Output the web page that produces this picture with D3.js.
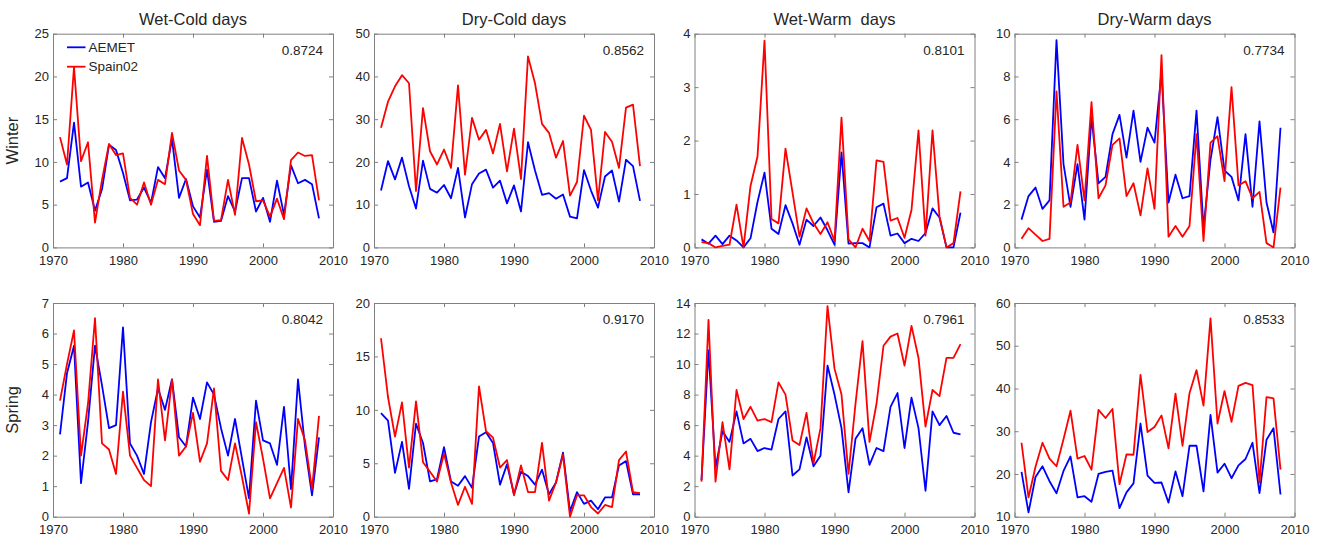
<!DOCTYPE html>
<html>
<head>
<meta charset="utf-8">
<title>Wet/Dry - Cold/Warm days, AEMET vs Spain02</title>
<script src="https://cdn.jsdelivr.net/npm/d3@7"></script>
<style>
  body { margin: 0; background: #fff; }
  svg { font-family: "Liberation Sans", Arial, sans-serif; }
</style>
</head>
<body>
<script>

// x categories
var years = [1971, 1972, 1973, 1974, 1975, 1976, 1977, 1978, 1979, 1980,
             1981, 1982, 1983, 1984, 1985, 1986, 1987, 1988, 1989, 1990,
             1991, 1992, 1993, 1994, 1995, 1996, 1997, 1998, 1999, 2000,
             2001, 2002, 2003, 2004, 2005, 2006, 2007, 2008];
var xTicks = [1970, 1980, 1990, 2000, 2010];

// ---- Winter ----
var wetColdWinterAemet   = [7.7, 8.1, 14.6, 7.1, 7.6, 4.3, 6.8, 12.0, 11.4, 8.7, 5.5, 5.6, 7.0, 5.2, 9.4, 8.1, 12.7, 5.8, 8.0, 4.8, 3.5, 9.1, 3.0, 3.1, 6.0, 4.2, 8.1, 8.1, 4.2, 5.8, 3.0, 7.8, 3.8, 9.6, 7.5, 7.9, 7.4, 3.4];
var wetColdWinterSpain02 = [12.9, 9.7, 21.1, 10.1, 12.3, 2.9, 7.9, 12.1, 10.8, 11.0, 5.8, 5.0, 7.6, 5.0, 7.9, 7.4, 13.4, 9.0, 7.9, 3.9, 2.6, 10.7, 3.1, 3.2, 7.9, 3.8, 12.8, 9.7, 5.4, 5.5, 3.6, 5.7, 3.3, 10.2, 11.1, 10.7, 10.8, 5.5];

var dryColdWinterAemet   = [13.3, 20.2, 15.9, 21.0, 14.3, 9.1, 20.3, 13.7, 12.8, 14.6, 11.5, 18.6, 7.0, 14.8, 17.3, 18.2, 14.0, 15.6, 10.3, 14.5, 8.4, 24.6, 18.0, 12.3, 12.7, 11.4, 12.4, 7.2, 6.8, 18.1, 13.3, 9.3, 16.6, 18.0, 10.7, 20.5, 19.0, 10.9];
var dryColdWinterSpain02 = [28.0, 34.1, 37.7, 40.3, 38.4, 13.2, 32.6, 22.5, 19.4, 22.9, 18.6, 37.9, 17.0, 30.3, 25.2, 27.5, 22.0, 28.9, 17.8, 27.8, 16.0, 44.7, 38.4, 28.9, 26.8, 21.0, 24.9, 12.1, 15.3, 30.8, 27.5, 11.0, 27.0, 24.7, 18.6, 32.7, 33.4, 19.0];

var wetWarmWinterAemet   = [0.15, 0.07, 0.22, 0.06, 0.22, 0.13, 0.0, 0.17, 0.85, 1.40, 0.35, 0.25, 0.79, 0.45, 0.05, 0.52, 0.40, 0.56, 0.32, 0.05, 1.78, 0.07, 0.08, 0.08, 0.0, 0.75, 0.82, 0.22, 0.26, 0.08, 0.16, 0.12, 0.27, 0.73, 0.56, 0.0, 0.0, 0.65];
var wetWarmWinterSpain02 = [0.10, 0.08, 0.0, 0.03, 0.05, 0.80, 0.0, 1.15, 1.70, 3.87, 0.53, 0.45, 1.85, 1.03, 0.20, 0.73, 0.45, 0.25, 0.47, 0.12, 2.43, 0.15, 0.0, 0.35, 0.12, 1.63, 1.60, 0.50, 0.55, 0.18, 0.70, 2.19, 0.22, 2.19, 0.58, 0.0, 0.08, 1.05];

var dryWarmWinterAemet   = [1.3, 2.4, 2.8, 1.8, 2.2, 9.7, 3.9, 1.9, 3.9, 1.3, 6.1, 3.0, 3.3, 5.3, 6.2, 4.2, 6.4, 4.0, 5.6, 4.9, 8.2, 2.1, 3.4, 2.3, 2.4, 6.4, 0.9, 4.1, 6.1, 3.6, 3.3, 2.2, 5.3, 1.9, 5.9, 2.1, 0.7, 5.6];
var dryWarmWinterSpain02 = [0.4, 0.9, 0.6, 0.3, 0.4, 7.3, 1.9, 2.1, 4.8, 2.2, 6.8, 2.3, 2.9, 4.8, 5.1, 2.4, 3.0, 1.5, 3.7, 1.8, 9.0, 0.5, 1.0, 0.5, 1.0, 5.3, 0.3, 4.9, 5.2, 3.1, 7.5, 2.9, 3.1, 2.3, 2.6, 0.2, 0.0, 2.8];

// ---- Spring ----
var wetColdSpringAemet   = [2.7, 4.7, 5.6, 1.1, 3.1, 5.6, 4.3, 2.9, 3.0, 6.2, 2.4, 2.0, 1.4, 3.1, 4.2, 3.5, 4.5, 2.6, 2.3, 3.9, 3.2, 4.4, 4.0, 2.9, 2.0, 3.2, 1.9, 0.6, 3.8, 2.5, 2.4, 1.7, 3.6, 0.9, 4.5, 2.3, 0.7, 2.6];
var wetColdSpringSpain02 = [3.8, 5.0, 6.1, 2.0, 3.7, 6.5, 2.4, 2.2, 1.4, 4.1, 2.0, 1.6, 1.2, 1.0, 4.5, 2.5, 4.5, 2.0, 2.3, 3.4, 1.8, 2.4, 4.2, 1.5, 1.2, 2.4, 1.3, 0.1, 3.1, 1.9, 0.6, 1.1, 1.6, 0.3, 3.2, 2.5, 0.9, 3.3];

var dryColdSpringAemet   = [9.7, 9.0, 4.1, 7.0, 2.6, 8.7, 6.9, 3.3, 3.5, 6.5, 3.3, 2.9, 3.8, 2.7, 7.5, 7.9, 6.9, 3.0, 4.9, 2.1, 4.2, 3.8, 3.0, 4.4, 2.1, 3.2, 6.0, 0.5, 2.3, 1.2, 1.5, 0.7, 1.8, 1.8, 4.8, 5.2, 2.1, 2.1];
var dryColdSpringSpain02 = [16.7, 11.2, 7.5, 10.7, 4.6, 10.8, 5.1, 4.2, 3.3, 5.9, 3.2, 1.1, 2.8, 1.2, 12.2, 8.0, 7.4, 4.6, 5.3, 2.0, 4.8, 2.3, 2.3, 6.9, 1.5, 3.2, 5.8, 0.0, 2.0, 2.0, 0.9, 0.3, 1.1, 0.9, 5.3, 6.1, 2.3, 2.2];

var wetWarmSpringAemet   = [2.4, 10.9, 3.2, 5.6, 4.9, 6.9, 4.8, 5.1, 4.3, 4.5, 4.4, 6.4, 6.9, 2.7, 3.1, 5.2, 3.3, 4.0, 9.9, 8.0, 5.8, 1.6, 5.1, 5.8, 3.4, 4.5, 4.3, 7.2, 8.1, 4.5, 7.8, 5.8, 1.7, 6.9, 6.0, 6.6, 5.5, 5.4];
var wetWarmSpringSpain02 = [2.3, 12.9, 2.3, 6.2, 3.1, 8.3, 6.4, 7.2, 6.3, 6.4, 6.2, 8.8, 8.0, 5.0, 4.7, 6.8, 3.5, 5.8, 13.8, 9.7, 8.0, 2.8, 7.4, 11.5, 4.9, 7.4, 11.2, 11.8, 12.0, 9.9, 12.5, 10.4, 5.9, 8.3, 7.9, 10.4, 10.4, 11.3];

var dryWarmSpringAemet   = [20.5, 11.0, 19.3, 21.8, 18.3, 15.5, 20.7, 24.1, 14.5, 14.8, 13.5, 20.0, 20.5, 20.8, 12.0, 15.7, 17.8, 31.8, 19.6, 17.9, 18.0, 13.3, 20.6, 14.8, 26.6, 26.6, 15.9, 33.8, 20.3, 22.4, 19.0, 22.0, 23.5, 27.3, 15.5, 28.0, 30.7, 15.2];
var dryWarmSpringSpain02 = [27.3, 14.5, 21.7, 27.3, 23.6, 21.8, 28.1, 34.8, 23.6, 24.2, 21.0, 35.0, 33.1, 35.2, 17.6, 24.6, 24.5, 43.2, 29.8, 31.0, 33.7, 26.0, 38.8, 26.6, 38.9, 44.3, 36.0, 56.4, 31.8, 39.4, 32.2, 40.6, 41.3, 40.8, 18.0, 38.0, 37.7, 21.0];

// labels
var titles = ["Wet-Cold days", "Dry-Cold days", "Wet-Warm  days", "Dry-Warm days"];
var seasons = ["Winter", "Spring"];
var seriesNames = ["AEMET", "Spain02"];
var correlationsWinter = ["0.8724", "0.8562", "0.8101", "0.7734"];
var correlationsSpring = ["0.8042", "0.9170", "0.7961", "0.8533"];

// y tick labels per panel
var yTicksWetColdWinter = [0, 5, 10, 15, 20, 25];
var yTicksDryColdWinter = [0, 10, 20, 30, 40, 50];
var yTicksWetWarmWinter = [0, 1, 2, 3, 4];
var yTicksDryWarmWinter = [0, 2, 4, 6, 8, 10];
var yTicksWetColdSpring = [0, 1, 2, 3, 4, 5, 6, 7];
var yTicksDryColdSpring = [0, 5, 10, 15, 20];
var yTicksWetWarmSpring = [0, 2, 4, 6, 8, 10, 12, 14];
var yTicksDryWarmSpring = [10, 20, 30, 40, 50, 60];

var panels = [
  {row: 0, col: 0, a: wetColdWinterAemet, s: wetColdWinterSpain02, ticks: yTicksWetColdWinter, r: correlationsWinter[0]},
  {row: 0, col: 1, a: dryColdWinterAemet, s: dryColdWinterSpain02, ticks: yTicksDryColdWinter, r: correlationsWinter[1]},
  {row: 0, col: 2, a: wetWarmWinterAemet, s: wetWarmWinterSpain02, ticks: yTicksWetWarmWinter, r: correlationsWinter[2]},
  {row: 0, col: 3, a: dryWarmWinterAemet, s: dryWarmWinterSpain02, ticks: yTicksDryWarmWinter, r: correlationsWinter[3]},
  {row: 1, col: 0, a: wetColdSpringAemet, s: wetColdSpringSpain02, ticks: yTicksWetColdSpring, r: correlationsSpring[0]},
  {row: 1, col: 1, a: dryColdSpringAemet, s: dryColdSpringSpain02, ticks: yTicksDryColdSpring, r: correlationsSpring[1]},
  {row: 1, col: 2, a: wetWarmSpringAemet, s: wetWarmSpringSpain02, ticks: yTicksWetWarmSpring, r: correlationsSpring[2]},
  {row: 1, col: 3, a: dryWarmSpringAemet, s: dryWarmSpringSpain02, ticks: yTicksDryWarmSpring, r: correlationsSpring[3]}
];

// layout
var W = 1322, H = 537;
var lefts = [53, 374, 694.5, 1014.5];
var tops = [33.7, 303];
var pw = 280, ph = 213.7;
var axisColor = "#808080", textColor = "#262626";
var colorA = "#0000ff", colorS = "#ff0000";

var svg = d3.select("body").append("svg")
    .attr("width", W)
    .attr("height", H);

panels.forEach(function(p) {
  var g = svg.append("g")
      .attr("transform", "translate(" + lefts[p.col] + "," + tops[p.row] + ")");

  var x = d3.scaleLinear().domain([1970, 2010]).range([0, pw]);
  var y = d3.scaleLinear().domain([p.ticks[0], p.ticks[p.ticks.length - 1]]).range([ph, 0]);

  // ticks on all four sides, pointing in
  var bottom = g.append("g").attr("transform", "translate(0," + ph + ")")
      .call(d3.axisBottom(x).tickValues(xTicks).tickFormat(d3.format("d")).tickSize(-4).tickSizeOuter(0).tickPadding(8));
  var top = g.append("g")
      .call(d3.axisTop(x).tickValues(xTicks).tickFormat("").tickSize(-4).tickSizeOuter(0));
  var left = g.append("g")
      .call(d3.axisLeft(y).tickValues(p.ticks).tickFormat(function(d) { return d; }).tickSize(-4).tickSizeOuter(0).tickPadding(4));
  var right = g.append("g").attr("transform", "translate(" + pw + ",0)")
      .call(d3.axisRight(y).tickValues(p.ticks).tickFormat("").tickSize(-4).tickSizeOuter(0));

  [bottom, top, left, right].forEach(function(ax) {
    ax.selectAll("path, line").attr("stroke", axisColor);
    ax.selectAll("text").attr("fill", textColor).style("font-size", "13px")
      .style("font-family", "'Liberation Sans', Arial, sans-serif");
  });

  var line = function(vals) {
    return d3.line()
      .x(function(d, i) { return x(years[i]); })
      .y(function(d) { return y(d); })(vals);
  };

  g.append("path").attr("d", line(p.a))
      .attr("fill", "none").attr("stroke", colorA).attr("stroke-width", 1.8)
      .attr("stroke-linejoin", "round");
  g.append("path").attr("d", line(p.s))
      .attr("fill", "none").attr("stroke", colorS).attr("stroke-width", 1.8)
      .attr("stroke-linejoin", "round");

  // correlation
  g.append("text")
      .attr("x", pw - 10).attr("y", 21)
      .attr("text-anchor", "end")
      .attr("fill", textColor)
      .style("font-size", "13.5px")
      .text(p.r);

  if (p.row === 0) {
    g.append("text")
      .attr("x", pw / 2).attr("y", -9)
      .attr("text-anchor", "middle")
      .attr("fill", textColor)
      .style("font-size", "16.5px")
      .style("white-space", "pre")
      .text(titles[p.col]);
  }

  if (p.col === 0) {
    g.append("text")
      .attr("transform", "translate(" + (-35) + "," + (ph / 2) + ") rotate(-90)")
      .attr("text-anchor", "middle")
      .attr("fill", textColor)
      .style("font-size", "16.5px")
      .text(seasons[p.row]);
  }

  // legend only in the first panel
  if (p.row === 0 && p.col === 0) {
    var legend = g.append("g");
    [colorA, colorS].forEach(function(c, i) {
      var ly = 13.6 + i * 19.4;
      legend.append("line")
        .attr("x1", 14).attr("x2", 32.5)
        .attr("y1", ly).attr("y2", ly)
        .attr("stroke", c).attr("stroke-width", 1.8);
      legend.append("text")
        .attr("x", 35.5).attr("y", ly)
        .attr("dy", "0.35em")
        .attr("fill", textColor)
        .style("font-size", "13.5px")
        .text(seriesNames[i]);
    });
  }
});

</script>
</body>
</html>
